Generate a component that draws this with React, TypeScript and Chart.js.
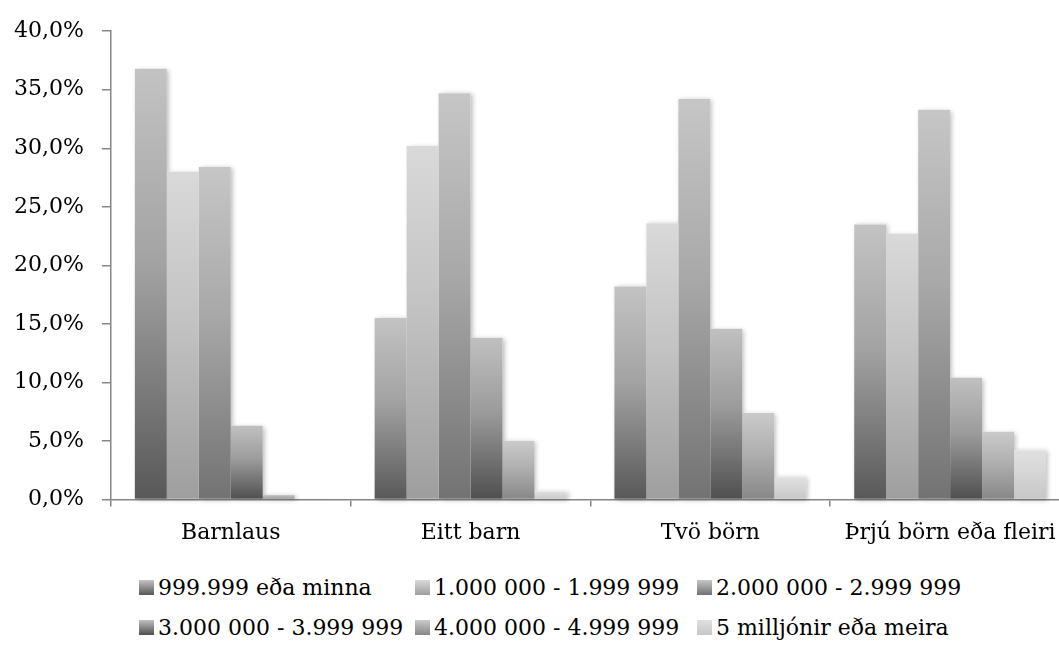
import { useEffect, useRef } from "react";
import { Chart, registerables } from "chart.js";

Chart.register(...registerables);

// Household income bands by number of children (share of households, %)
const categories = ["Barnlaus", "Eitt barn", "Tvö börn", "Þrjú börn eða fleiri"];
const seriesLabels = [
  "999.999 eða minna",
  "1.000 000 - 1.999 999",
  "2.000 000 - 2.999 999",
  "3.000 000 - 3.999 999",
  "4.000 000 - 4.999 999",
  "5 milljónir eða meira",
];
const under1m = [36.8, 15.5, 18.2, 23.5];
const from1to2m = [28.0, 30.2, 23.6, 22.7];
const from2to3m = [28.4, 34.7, 34.2, 33.3];
const from3to4m = [6.3, 13.8, 14.6, 10.4];
const from4to5m = [0.4, 5.0, 7.4, 5.8];
const over5m = [0.1, 0.7, 1.9, 4.2];
const seriesValues = [under1m, from1to2m, from2to3m, from3to4m, from4to5m, over5m];

const yMin = 0;
const yMax = 40;
const yStep = 5;

// Vertical grey gradient per series: top, middle, bottom
const shades: [string, string, string][] = [
  ["#c3c3c3", "#a3a3a3", "#585858"],
  ["#d9d9d9", "#c3c3c3", "#9e9e9e"],
  ["#c6c6c6", "#a8a8a8", "#727272"],
  ["#c0c0c0", "#9c9c9c", "#4f4f4f"],
  ["#cacaca", "#b0b0b0", "#878787"],
  ["#e0e0e0", "#d6d6d6", "#c6c6c6"],
];

const FONT = '"DejaVu Serif", serif';
const AXIS_GREY = "#868686";

const formatPct = (v: number) => v.toFixed(1).replace(".", ",") + "%";

// Soft drop shadow behind every bar, painted before the bars themselves
const barShadow = {
  id: "barShadow",
  beforeDatasetsDraw(chart: any) {
    const ctx = chart.ctx as CanvasRenderingContext2D;
    ctx.save();
    ctx.shadowColor = "rgba(0,0,0,0.28)";
    ctx.shadowBlur = 5;
    ctx.shadowOffsetX = 2;
    ctx.shadowOffsetY = 1;
    ctx.fillStyle = "#ffffff";
    chart.getSortedVisibleDatasetMetas().forEach((meta: any) => {
      meta.data.forEach((el: any) => {
        const { x, y, base, width } = el.getProps(["x", "y", "base", "width"], true);
        const h = Math.abs(base - y);
        if (h < 0.5) return;
        ctx.fillRect(x - width / 2, Math.min(y, base), width, h);
      });
    });
    ctx.restore();
  },
};

function barGradient(seriesIndex: number) {
  return (c: any) => {
    const [top, mid, bottom] = shades[seriesIndex];
    const chart = c.chart;
    if (!chart.chartArea || c.type !== "data") return mid;
    const yScale = chart.scales.y;
    const v = c.parsed ? c.parsed.y : c.raw;
    const yTop = yScale.getPixelForValue(v);
    const yBase = yScale.getPixelForValue(0);
    if (yBase - yTop < 1) return top;
    const g = chart.ctx.createLinearGradient(0, yTop, 0, yBase);
    g.addColorStop(0, top);
    g.addColorStop(0.45, mid);
    g.addColorStop(1, bottom);
    return g;
  };
}

export default function App() {
  const canvasRef = useRef<HTMLCanvasElement>(null);

  useEffect(() => {
    if (!canvasRef.current) return;
    const chart = new Chart(canvasRef.current, {
      type: "bar",
      data: {
        labels: categories,
        datasets: seriesValues.map((vals, i) => ({
          label: seriesLabels[i],
          data: vals,
          backgroundColor: barGradient(i),
          borderWidth: 0,
          categoryPercentage: 0.8,
          barPercentage: 1.0,
        })),
      },
      options: {
        animation: false,
        responsive: true,
        maintainAspectRatio: false,
        layout: { padding: { left: 13, right: 10, top: 30, bottom: 6 } },
        plugins: {
          legend: { display: false },
          tooltip: { enabled: false },
        },
        scales: {
          x: {
            offset: true,
            border: { display: true, color: AXIS_GREY, width: 1.5 },
            grid: {
              display: true,
              offset: true,
              drawOnChartArea: false,
              drawTicks: true,
              tickLength: 7,
              color: AXIS_GREY,
              lineWidth: 1.5,
            },
            ticks: {
              color: "#000",
              padding: 13,
              maxRotation: 0,
              autoSkip: false,
              font: { family: FONT, size: 22 },
            },
          },
          y: {
            min: yMin,
            max: yMax,
            border: { display: true, color: AXIS_GREY, width: 1.5 },
            grid: {
              display: true,
              drawOnChartArea: false,
              drawTicks: true,
              tickLength: 9,
              color: AXIS_GREY,
              lineWidth: 1.5,
            },
            ticks: {
              stepSize: yStep,
              color: "#000",
              padding: 18,
              font: { family: FONT, size: 22 },
              callback: (v: any) => formatPct(Number(v)),
            },
          },
        },
      },
      plugins: [barShadow],
    });
    return () => chart.destroy();
  }, []);

  return (
    <div
      style={{
        position: "fixed",
        left: 0,
        top: 0,
        width: 1059,
        height: 646,
        overflow: "hidden",
        background: "#ffffff",
        fontFamily: FONT,
      }}
    >
      <div style={{ position: "absolute", left: -17, top: 0, width: 1097, height: 565 }}>
        <canvas ref={canvasRef} />
      </div>
      <div
        style={{
          position: "absolute",
          left: 139,
          top: 567,
          display: "grid",
          gridTemplateColumns: "276px 282px auto",
          gridAutoRows: "40px",
          fontSize: 22,
          color: "#000",
          whiteSpace: "nowrap",
        }}
      >
        {seriesLabels.map((label, i) => (
          <div key={label} style={{ display: "flex", alignItems: "center" }}>
            <span
              style={{
                display: "inline-block",
                width: 15,
                height: 15,
                marginRight: 4,
                background: `linear-gradient(to bottom, ${shades[i][0]}, ${shades[i][2]})`,
              }}
            />
            <span>{label}</span>
          </div>
        ))}
      </div>
    </div>
  );
}
